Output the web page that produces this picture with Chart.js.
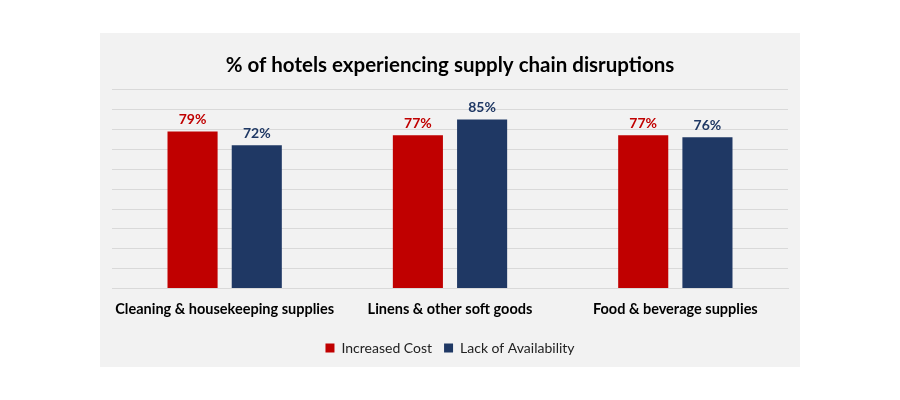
<!DOCTYPE html>
<html>
<head>
<meta charset="utf-8">
<script src="https://cdn.jsdelivr.net/npm/chart.js@4/dist/chart.umd.min.js"></script>
<style>
    html, body { margin: 0; padding: 0; background: #ffffff; }
    #panel {
        position: absolute;
        left: 100px; top: 33px;
        width: 700px; height: 334px;
        background: #f2f2f2;
    }
    #chart { width: 700px; height: 334px; }
</style>
</head>
<body>
<div id="panel"><canvas id="chart"></canvas></div>
<script>
// Supply chain disruptions - grouped bar chart

const categories = ['Cleaning & housekeeping supplies', 'Linens & other soft goods', 'Food & beverage supplies'];
const increasedCost = [79, 77, 77];
const lackOfAvailability = [72, 85, 76];

const COLORS = {
    red: '#c00000',
    navy: '#1f3864',
    grid: '#d9d9d9',
    text: '#000000'
};

const FONT = 'Lato, "Open Sans", sans-serif';

/**
 * Draw value labels above each bar
 */
const valueLabels = {
    id: 'valueLabels',
    afterDatasetsDraw(chart) {
        const ctx = chart.ctx;
        ctx.save();
        ctx.font = `bold 14px ${FONT}`;
        ctx.textAlign = 'center';
        ctx.textBaseline = 'bottom';
        chart.data.datasets.forEach((ds, i) => {
            const meta = chart.getDatasetMeta(i);
            ctx.fillStyle = ds.labelColor;
            meta.data.forEach((bar, j) => {
                ctx.fillText(ds.data[j] + '%', bar.x, bar.y - 5);
            });
        });
        ctx.restore();
    }
};

new Chart(document.getElementById('chart'), {
    type: 'bar',
    data: {
        labels: categories,
        datasets: [
            {
                label: 'Increased Cost',
                data: increasedCost,
                backgroundColor: COLORS.red,
                labelColor: COLORS.red,
                barPercentage: 0.78,
                categoryPercentage: 0.57
            },
            {
                label: 'Lack of Availability',
                data: lackOfAvailability,
                backgroundColor: COLORS.navy,
                labelColor: COLORS.navy,
                barPercentage: 0.78,
                categoryPercentage: 0.57
            }
        ]
    },
    options: {
        responsive: false,
        animation: false,
        maintainAspectRatio: false,
        layout: { padding: { left: 12, right: 12, top: 0, bottom: 18 } },
        plugins: {
            title: {
                display: true,
                text: '% of hotels experiencing supply chain disruptions',
                color: COLORS.text,
                font: { family: FONT, size: 20.5, weight: 'bold' },
                padding: { top: 20, bottom: 12 }
            },
            legend: {
                position: 'bottom',
                labels: {
                    color: '#222222',
                    font: { family: FONT, size: 14 },
                    boxWidth: 9,
                    boxHeight: 9,
                    padding: 12
                }
            },
            tooltip: { enabled: false }
        },
        scales: {
            y: {
                min: 0,
                max: 100,
                ticks: { display: false, stepSize: 10 },
                grid: { color: COLORS.grid, drawTicks: false },
                border: { display: false },
                afterFit: (scale) => { scale.width = 0; }
            },
            x: {
                grid: { display: false },
                border: { color: COLORS.grid },
                ticks: {
                    color: COLORS.text,
                    font: { family: FONT, size: 14.5, weight: 'bold' },
                    padding: 4,
                    maxRotation: 0,
                    minRotation: 0,
                    autoSkip: false
                },
                // leave extra room between category labels and legend
                afterFit: (scale) => { scale.height += 7; }
            }
        }
    },
    plugins: [valueLabels]
});
</script>
</body>
</html>
